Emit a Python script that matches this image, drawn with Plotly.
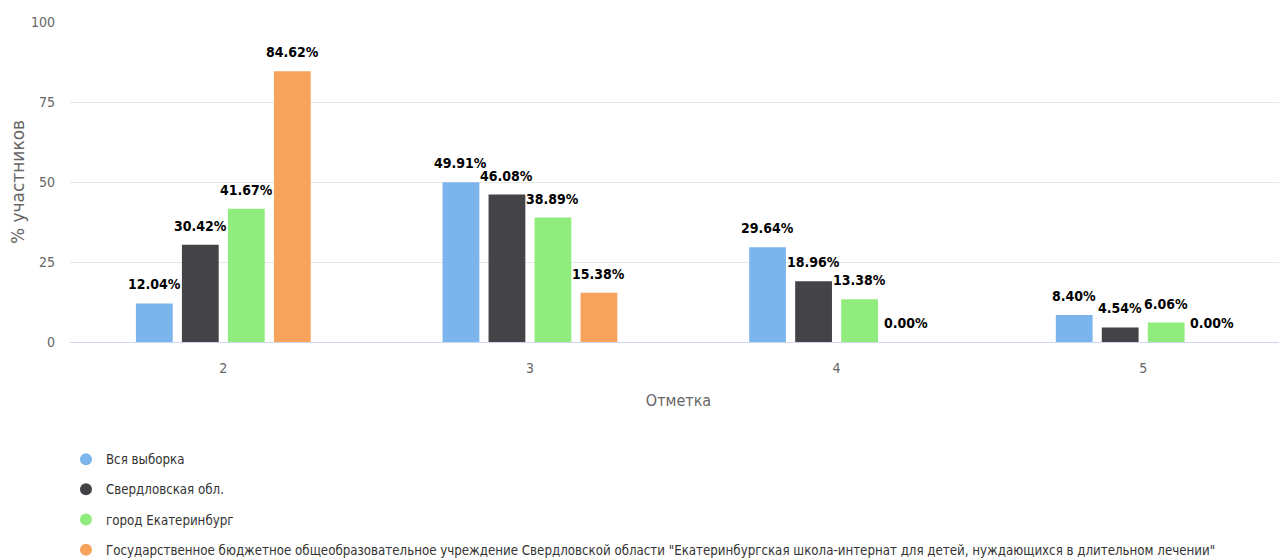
import plotly.graph_objects as go

categories = ["2", "3", "4", "5"]
series_names = [
    "Вся выборка",
    "Свердловская обл.",
    "город Екатеринбург",
    "Государственное бюджетное общеобразовательное учреждение Свердловской области \"Екатеринбургская школа-интернат для детей, нуждающихся в длительном лечении\"",
]
values_all = [12.04, 49.91, 29.64, 8.40]
values_region = [30.42, 46.08, 18.96, 4.54]
values_city = [41.67, 38.89, 13.38, 6.06]
values_school = [84.62, 15.38, 0.00, 0.00]
colors = ["#7cb5ec", "#434348", "#90ed7d", "#f7a35c"]

FONT = "DejaVu Sans Condensed"
series_values = [values_all, values_region, values_city, values_school]

fig = go.Figure()
for name, vals, col in zip(series_names, series_values, colors):
    fig.add_trace(go.Bar(
        x=categories, y=vals, name=name, marker_color=col, marker_line_width=0,
        textposition="none", showlegend=False,
    ))
    fig.add_trace(go.Scatter(
        x=[None], y=[None], mode="markers", name=name,
        marker=dict(symbol="circle", size=13, color=col),
        legendgroup=name, showlegend=True,
    ))

# data labels above bars (x given as category index on the category axis)
BAR_PITCH = 46
for i, vals in enumerate(series_values):
    for j, v in enumerate(vals):
        fig.add_annotation(
            x=j, y=v, text=f"{v:.2f}%", showarrow=False,
            xshift=(i - 1.5) * BAR_PITCH, yshift=19, yanchor="middle",
            font=dict(family=FONT, size=14, color="#000000", weight="bold"),
        )

fig.update_layout(
    width=1279, height=551,
    margin=dict(l=62, r=0, t=14, b=217, autoexpand=False),
    paper_bgcolor="white", plot_bgcolor="white",
    barmode="group", bargap=0.4, bargroupgap=0.2,
    font=dict(family=FONT, color="#666666"),
    showlegend=True,
    legend=dict(
        orientation="v", x=-0.0033, xanchor="left", y=-0.319, yanchor="top",
        font=dict(family=FONT, size=13.2, color="#333333"),
        traceorder="grouped", tracegroupgap=10, itemsizing="constant",
    ),
    xaxis=dict(
        type="category", range=[-0.5, 3.469], automargin=False,
        tickfont=dict(family=FONT, size=14, color="#666666"),
        ticks="", showgrid=False, showline=True, linecolor="#ccd6eb", linewidth=1,
        ticklabelstandoff=13,
        title=dict(text="Отметка", font=dict(family=FONT, size=16, color="#666666"), standoff=20),
    ),
    yaxis=dict(
        range=[0, 100], tickvals=[0, 25, 50, 75, 100], automargin=False,
        tickfont=dict(family=FONT, size=14, color="#666666"),
        showgrid=True, gridcolor="#e6e6e6", gridwidth=1, zeroline=False,
        ticklabelstandoff=14,
        title=dict(text="% участников", font=dict(family="DejaVu Sans, sans-serif", size=17, color="#666666"), standoff=14),
    ),
)

fig.write_html("out.html")
